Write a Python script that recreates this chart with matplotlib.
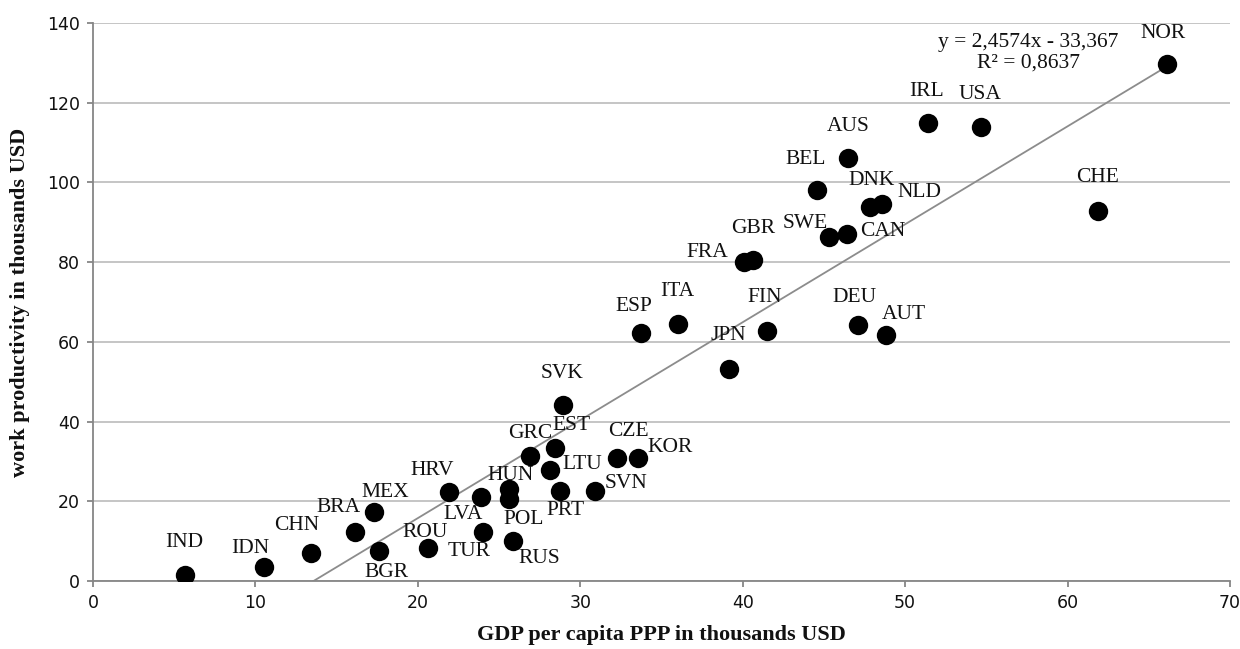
import matplotlib
matplotlib.use("Agg")
import matplotlib.pyplot as plt
import numpy as np

countries = ["IND", "IDN", "CHN", "BRA", "MEX", "BGR", "ROU", "HRV", "LVA", "TUR",
             "HUN", "POL", "RUS", "GRC", "LTU", "EST", "PRT", "SVK", "SVN", "CZE",
             "KOR", "ESP", "ITA", "JPN", "FRA", "GBR", "FIN", "BEL", "SWE", "CAN",
             "AUS", "DEU", "DNK", "NLD", "AUT", "IRL", "USA", "CHE", "NOR"]
gdp = [5.69, 10.54, 13.4, 16.16, 17.28, 17.6, 20.6, 21.94, 23.88, 24.04,
       25.6, 25.6, 25.86, 26.88, 28.16, 28.47, 28.73, 28.94, 30.88, 32.25,
       33.55, 33.75, 36.04, 39.13, 40.05, 40.65, 41.5, 44.6, 45.3, 46.45,
       46.5, 47.07, 47.85, 48.6, 48.8, 51.4, 54.68, 61.9, 66.1]
productivity = [1.5, 3.5, 7.1, 12.4, 17.2, 7.6, 8.2, 22.4, 21.2, 12.4,
                23.1, 20.6, 10.1, 31.4, 27.9, 33.4, 22.5, 44.2, 22.5, 30.8,
                30.8, 62.1, 64.5, 53.1, 80.1, 80.6, 62.8, 98.2, 86.4, 87.0,
                106.1, 64.2, 93.8, 94.5, 61.7, 114.8, 113.9, 92.9, 129.6]
slope = 2.4574
intercept = -33.367
r_squared = 0.8637
x_ticks = [0, 10, 20, 30, 40, 50, 60, 70]
y_ticks = [0, 20, 40, 60, 80, 100, 120, 140]
x_title = "GDP per capita PPP in thousands USD"
y_title = "work productivity in thousands USD"

# label placement (pixel offsets from point centre, horizontal alignment)
label_pos = {
    "IND": (-1, 33, "center"), "IDN": (-14, 19, "center"), "CHN": (-14, 27, "center"),
    "BRA": (-17, 24, "center"), "MEX": (12, 20, "center"), "BGR": (8, -22, "center"),
    "ROU": (-2, 16, "center"), "HRV": (-17, 21, "center"), "LVA": (-18, -18, "center"),
    "TUR": (-14, -20, "center"), "HUN": (2, 13, "center"), "POL": (15, -21, "center"),
    "RUS": (26, -18, "center"), "GRC": (1, 22, "center"), "LTU": (12, 5, "left"),
    "EST": (16, 22, "center"), "PRT": (6, -19, "center"), "SVK": (-1, 31, "center"),
    "SVN": (10, 8, "left"), "CZE": (12, 27, "center"), "KOR": (9, 11, "left"),
    "ESP": (-7, 27, "center"), "ITA": (-1, 32, "center"), "JPN": (0, 34, "center"),
    "FRA": (-15, 9, "right"), "GBR": (0, 31, "center"), "FIN": (-2, 33, "center"),
    "BEL": (-12, 30, "center"), "SWE": (-24, 13, "center"), "CAN": (13, 3, "left"),
    "AUS": (0, 32, "center"), "DEU": (-3, 28, "center"), "DNK": (1, 27, "center"),
    "NLD": (15, 12, "left"), "AUT": (18, 21, "center"), "IRL": (-1, 32, "center"),
    "USA": (-1, 33, "center"), "CHE": (-1, 33, "center"), "NOR": (-4, 31, "center"),
}

W, H = 1240, 649
fig = plt.figure(figsize=(W / 100, H / 100), dpi=100)
ax = fig.add_axes([93 / W, 1 - 581 / H, (1230 - 93) / W, (581 - 23) / H])

grid_c = "#c0c0c0"
axis_c = "#868686"

ax.set_xlim(0, 70)
ax.set_ylim(0, 140)
ax.set_xticks(x_ticks)
ax.set_yticks(y_ticks)
ax.yaxis.grid(True, color=grid_c, linewidth=1.3, zorder=0)
ax.set_axisbelow(True)
for s in ["top", "right"]:
    ax.spines[s].set_visible(False)
for s in ["left", "bottom"]:
    ax.spines[s].set_color(axis_c)
    ax.spines[s].set_linewidth(1.3)
ax.tick_params(axis="both", direction="out", length=4.5, width=1.3, color=axis_c,
               labelsize=12.5, pad=5, labelcolor="#111111")
for lbl in ax.get_xticklabels() + ax.get_yticklabels():
    lbl.set_fontfamily("DejaVu Sans")

# trend line
xs = np.array([min(gdp), max(gdp)])
ax.plot(xs, slope * xs + intercept, color="#8c8c8c", linewidth=1.3, zorder=2)

ax.scatter(gdp, productivity, s=195, color="black", zorder=3, linewidths=0)

label_font = dict(family="Liberation Serif", fontsize=15.5, color="#111111")
for c, x, y in zip(countries, gdp, productivity):
    dx, dy, ha = label_pos[c]
    ax.annotate(c, (x, y), xytext=(dx, dy), textcoords="offset pixels",
                ha=ha, va="center", zorder=4, **label_font)

eq_text = "y = {}x - {}\nR² = {}".format(str(slope).replace(".", ","),
                                          str(-intercept).replace(".", ","),
                                          str(r_squared).replace(".", ","))
ax.text(57.6, 132.6, eq_text, ha="center", va="center", linespacing=1.1,
        **label_font)

ax.set_xlabel(x_title, family="Liberation Serif", fontweight="bold", fontsize=16,
              labelpad=9, color="#111111")
ax.set_ylabel(y_title, family="Liberation Serif", fontweight="bold", fontsize=16,
              labelpad=12, color="#111111")

fig.savefig("out.png", dpi=100)
